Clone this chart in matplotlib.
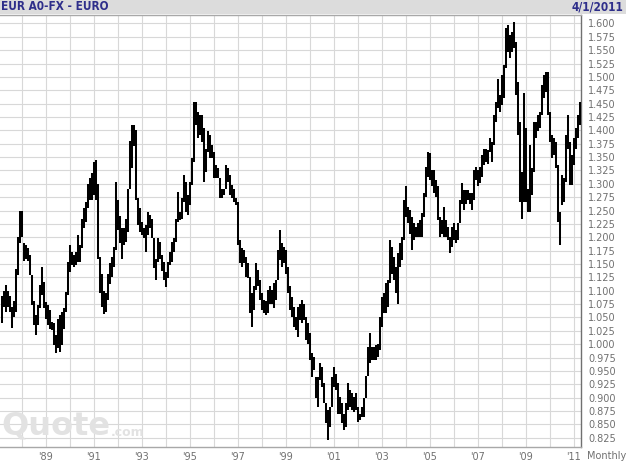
import matplotlib
matplotlib.use("Agg")
import matplotlib.pyplot as plt
import matplotlib.dates as mdates
from matplotlib.patches import Rectangle
import pandas as pd
from datetime import datetime

title = "EUR A0-FX - EURO"
as_of = "4/1/2011"
period = "Monthly"
first_month = "1987-03-01"

# monthly low / high, Mar 1987 .. Apr 2011
lows = [
    1.04, 1.07, 1.06, 1.07, 1.06, 1.03, 1.05, 1.06, 1.13, 1.19,                      # 1987
    1.20, 1.155, 1.16, 1.155, 1.13, 1.073, 1.036, 1.017, 1.036, 1.067, 1.092, 1.067,  # 1988
    1.048, 1.036, 1.029, 1.026, 0.998, 0.983, 0.992, 0.986, 0.998, 1.029, 1.061, 1.092,  # 1989
    1.135, 1.148, 1.145, 1.148, 1.154, 1.154, 1.179, 1.217, 1.229, 1.254, 1.27, 1.27,  # 1990
    1.28, 1.27, 1.16, 1.095, 1.07, 1.057, 1.06, 1.082, 1.113, 1.126, 1.145, 1.176,    # 1991
    1.213, 1.19, 1.16, 1.185, 1.192, 1.21, 1.29, 1.33, 1.37, 1.27, 1.223, 1.21,       # 1992
    1.204, 1.198, 1.173, 1.204, 1.217, 1.198, 1.142, 1.12, 1.154, 1.16, 1.136, 1.12,  # 1993
    1.107, 1.123, 1.148, 1.154, 1.173, 1.192, 1.229, 1.232, 1.235, 1.266, 1.248, 1.242,  # 1994
    1.26, 1.298, 1.341, 1.41, 1.385, 1.391, 1.379, 1.304, 1.323, 1.36, 1.348, 1.348,  # 1995
    1.31, 1.31, 1.31, 1.273, 1.273, 1.279, 1.291, 1.304, 1.279, 1.273, 1.266, 1.26,   # 1996
    1.185, 1.151, 1.145, 1.151, 1.126, 1.123, 1.058, 1.033, 1.064, 1.101, 1.108, 1.083,  # 1997
    1.064, 1.058, 1.054, 1.058, 1.076, 1.076, 1.067, 1.083, 1.12, 1.157, 1.145, 1.151,  # 1998
    1.132, 1.095, 1.064, 1.051, 1.033, 1.026, 1.014, 1.045, 1.039, 1.045, 1.008, 1.001,  # 1999
    0.97, 0.939, 0.951, 0.90, 0.883, 0.933, 0.92, 0.89, 0.852, 0.82, 0.845, 0.883,    # 2000
    0.92, 0.914, 0.87, 0.87, 0.852, 0.839, 0.845, 0.877, 0.883, 0.877, 0.873, 0.877,  # 2001
    0.855, 0.858, 0.864, 0.864, 0.90, 0.94, 0.964, 0.97, 0.97, 0.97, 0.976, 0.989,    # 2002
    1.033, 1.058, 1.058, 1.07, 1.114, 1.132, 1.12, 1.095, 1.076, 1.145, 1.157, 1.195,  # 2003
    1.238, 1.226, 1.207, 1.176, 1.195, 1.201, 1.201, 1.201, 1.201, 1.238, 1.276, 1.313,  # 2004
    1.307, 1.295, 1.282, 1.276, 1.232, 1.201, 1.207, 1.201, 1.201, 1.195, 1.17, 1.182,  # 2005
    1.195, 1.189, 1.195, 1.226, 1.263, 1.251, 1.263, 1.27, 1.263, 1.251, 1.27, 1.307,  # 2006
    1.295, 1.301, 1.313, 1.335, 1.341, 1.338, 1.36, 1.341, 1.373, 1.416, 1.441, 1.435,  # 2007
    1.447, 1.46, 1.516, 1.547, 1.535, 1.547, 1.554, 1.466, 1.391, 1.266, 1.235, 1.266,  # 2008
    1.266, 1.248, 1.248, 1.279, 1.323, 1.385, 1.398, 1.404, 1.429, 1.46, 1.472, 1.429,  # 2009
    1.379, 1.348, 1.354, 1.329, 1.229, 1.185, 1.26, 1.266, 1.304, 1.366, 1.298, 1.298,  # 2010
    1.335, 1.366, 1.385, 1.41,                                                       # 2011
]
highs = [
    1.09, 1.10, 1.11, 1.10, 1.09, 1.07, 1.08, 1.14, 1.20, 1.25,                      # 1987
    1.25, 1.19, 1.185, 1.18, 1.167, 1.13, 1.08, 1.054, 1.073, 1.11, 1.145, 1.117,     # 1988
    1.079, 1.073, 1.064, 1.042, 1.039, 1.017, 1.048, 1.054, 1.061, 1.067, 1.098, 1.154,  # 1989
    1.185, 1.173, 1.167, 1.173, 1.204, 1.185, 1.235, 1.254, 1.266, 1.30, 1.31, 1.32,  # 1990
    1.34, 1.345, 1.30, 1.163, 1.132, 1.10, 1.095, 1.132, 1.151, 1.163, 1.182, 1.304,  # 1991
    1.27, 1.24, 1.217, 1.217, 1.235, 1.29, 1.38, 1.41, 1.41, 1.40, 1.273, 1.254,      # 1992
    1.229, 1.217, 1.223, 1.248, 1.242, 1.235, 1.198, 1.16, 1.198, 1.192, 1.167, 1.154,  # 1993
    1.135, 1.154, 1.173, 1.192, 1.198, 1.235, 1.285, 1.248, 1.273, 1.317, 1.304, 1.279,  # 1994
    1.304, 1.348, 1.454, 1.454, 1.435, 1.429, 1.429, 1.404, 1.366, 1.398, 1.391, 1.373,  # 1995
    1.36, 1.335, 1.329, 1.31, 1.291, 1.291, 1.335, 1.329, 1.316, 1.298, 1.291, 1.273,  # 1996
    1.266, 1.195, 1.179, 1.176, 1.164, 1.151, 1.126, 1.095, 1.108, 1.151, 1.139, 1.12,  # 1997
    1.095, 1.083, 1.08, 1.101, 1.108, 1.101, 1.114, 1.12, 1.176, 1.214, 1.19, 1.182,  # 1998
    1.176, 1.145, 1.108, 1.089, 1.07, 1.051, 1.07, 1.076, 1.083, 1.076, 1.051, 1.039,  # 1999
    1.02, 0.983, 0.976, 0.939, 0.939, 0.964, 0.958, 0.927, 0.889, 0.877, 0.883, 0.939,  # 2000
    0.958, 0.945, 0.927, 0.902, 0.889, 0.87, 0.889, 0.927, 0.914, 0.908, 0.902, 0.908,  # 2001
    0.883, 0.87, 0.883, 0.90, 0.94, 0.995, 1.02, 0.995, 0.995, 0.998, 1.00, 1.051,    # 2002
    1.089, 1.095, 1.114, 1.12, 1.195, 1.182, 1.163, 1.145, 1.17, 1.189, 1.201, 1.27,  # 2003
    1.295, 1.257, 1.251, 1.238, 1.226, 1.22, 1.226, 1.232, 1.245, 1.282, 1.332, 1.36,  # 2004
    1.357, 1.326, 1.326, 1.307, 1.295, 1.238, 1.232, 1.257, 1.232, 1.22, 1.201, 1.22,  # 2005
    1.226, 1.213, 1.226, 1.27, 1.301, 1.288, 1.288, 1.288, 1.282, 1.282, 1.326, 1.332,  # 2006
    1.326, 1.332, 1.354, 1.366, 1.366, 1.363, 1.385, 1.379, 1.429, 1.454, 1.497, 1.466,  # 2007
    1.504, 1.522, 1.591, 1.597, 1.578, 1.585, 1.603, 1.566, 1.491, 1.416, 1.323, 1.47,  # 2008
    1.404, 1.291, 1.373, 1.329, 1.416, 1.416, 1.429, 1.435, 1.485, 1.504, 1.51, 1.51,  # 2009
    1.435, 1.391, 1.385, 1.379, 1.335, 1.248, 1.316, 1.31, 1.391, 1.429, 1.379, 1.354,  # 2010
    1.385, 1.404, 1.429, 1.454,                                                      # 2011
]

label_years = list(range(1989, 2012, 2))
grid_years = list(range(1988, 2012))
price_ticks = [0.825 + 0.025 * i for i in range(32)]

dates = pd.date_range(first_month, periods=len(lows), freq="MS")

W, H = 626, 465
fig = plt.figure(figsize=(W / 100, H / 100), dpi=100)
fig.patch.set_facecolor("white")

# header strip
fig.patches.append(Rectangle((0, 1 - 14.5 / H), 1, 14.5 / H, transform=fig.transFigure,
                             facecolor="#dcdcdc", edgecolor="none", zorder=0))
hdr_font = ["Liberation Sans Narrow", "DejaVu Sans"]
fig.text(1 / W, 1 - 7 / H, title, family=hdr_font, stretch="condensed", weight="bold",
         fontsize=8.5, color="#2e2e8a", va="center", ha="left")
fig.text(623 / W, 1 - 7 / H, as_of, family=hdr_font, stretch="condensed", weight="bold",
         fontsize=8.5, color="#2e2e8a", va="center", ha="right")

ax = fig.add_axes([0, 1 - 446.5 / H, 581 / W, (446.5 - 15) / H])
ax.set_facecolor("white")

for y in grid_years:
    ax.axvline(datetime(y, 1, 1), color="#d8d8d8", lw=0.8, zorder=1)
for p in price_ticks:
    ax.axhline(p, color="#d8d8d8", lw=0.8, zorder=1)

# watermark
ax.text(0.002, 0.012, "Quote", transform=ax.transAxes, fontsize=23, weight="bold",
        color="#e2e2e2", ha="left", va="bottom", zorder=2)
ax.text(0.191, 0.018, ".com", transform=ax.transAxes, fontsize=9, weight="bold",
        color="#e2e2e2", ha="left", va="bottom", zorder=2)

ax.vlines(dates, lows, highs, color="black", lw=1.45, zorder=3)

ax.set_xlim(datetime(1987, 2, 5), datetime(2011, 4, 20))
ax.set_ylim(0.8085, 1.6159)

ax.yaxis.tick_right()
ax.set_yticks(price_ticks)
ax.set_yticklabels(["%.3f" % p for p in price_ticks])
ax.set_xticks([datetime(y, 1, 1) for y in label_years])
ax.set_xticklabels(["'%02d" % (y % 100) for y in label_years])
ax.tick_params(axis="both", length=0, labelsize=7, labelcolor="#707070")
ax.tick_params(axis="y", pad=5)
ax.tick_params(axis="x", pad=4)

ax.spines["left"].set_visible(False)
ax.spines["top"].set_color("#a8a8a8")
ax.spines["bottom"].set_color("#a8a8a8")
ax.spines["right"].set_color("#707070")
for s in ax.spines.values():
    s.set_linewidth(1.0)

fig.text(587 / W, 1 - 456 / H, period, fontsize=7, color="#707070", ha="left", va="center")

fig.savefig("out.png", dpi=100)
